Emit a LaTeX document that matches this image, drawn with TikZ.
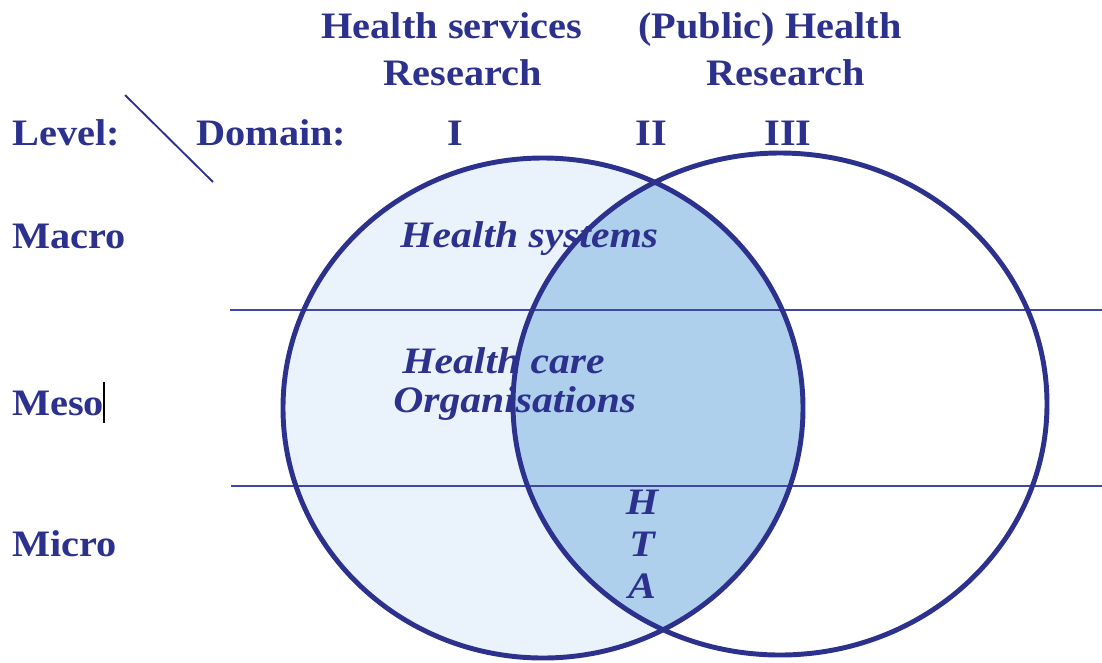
\documentclass[tikz,border=0pt]{standalone}
\usepackage{fontspec}
\setmainfont{Liberation Serif}[FakeStretch=1.08]
\newfontfamily\areafont{Liberation Serif}[FakeStretch=1.115]
\definecolor{navy}{RGB}{43,49,140}
\definecolor{rule}{RGB}{62,72,160}
\definecolor{fillI}{RGB}{234,243,251}
\definecolor{fillII}{RGB}{174,208,236}
\tikzset{
  lbl/.style={inner sep=0pt, text=navy, font=\fontsize{28}{30}\selectfont\bfseries},
  ilbl/.style={lbl, font=\areafont\fontsize{28}{30}\selectfont\bfseries\itshape},
  ring/.style={draw=navy, line width=3.7pt},
  band/.style={draw=rule, line width=1.3pt},
}
\begin{document}
\begin{tikzpicture}[x=0.75pt,y=-0.75pt]
\useasboundingbox (0,0) rectangle (1102,662);

% circle centres
\coordinate (cL) at (543,408);
\coordinate (cR) at (780,404);

% fills: domain I and the overlap II
\fill[fillI] (cL) ellipse [x radius=260, y radius=250];
\begin{scope}
  \clip (cL) ellipse [x radius=260, y radius=250];
  \fill[fillII] (cR) ellipse [x radius=267, y radius=251];
\end{scope}

% level boundaries
\coordinate (h1a) at (230,310);
\coordinate (h1b) at (1102,310);
\coordinate (h2a) at (231,486);
\coordinate (h2b) at (1102,486);
\draw[band] (h1a) -- (h1b);
\draw[band] (h2a) -- (h2b);

% corner divider
\coordinate (d1) at (125,95);
\coordinate (d2) at (213,182);
\draw[navy, line width=1.4pt] (d1) -- (d2);

% headers
\node[lbl, anchor=base] (hsr1) at (452,38) {Health services};
\node[lbl, anchor=base] (hsr2) at (463,85) {Research};
\node[lbl, anchor=base] (phr1) at (770,38) {(Public) Health};
\node[lbl, anchor=base] (phr2) at (786,85) {Research};

\node[lbl, anchor=base west] (level) at (12,145) {Level:};
\node[lbl, anchor=base west] (domain) at (196,145) {Domain:};
\node[lbl, anchor=base] (dI) at (455,145) {I};
\node[lbl, anchor=base] (dII) at (651,145) {II};
\node[lbl, anchor=base] (dIII) at (788,145) {III};

% levels
\node[lbl, anchor=base west] (macro) at (12,248) {Macro};
\node[lbl, anchor=base west] (meso) at (12,415) {Meso};
\node[lbl, anchor=base west] (micro) at (12,556) {Micro};
\coordinate (cur1) at (104,382);
\coordinate (cur2) at (104,423);
\draw[black, line width=1.2pt] (cur1) -- (cur2);

% areas
\node[ilbl, anchor=base west] (hs) at (400,247) {Health systems};
\node[ilbl, anchor=base west] (hc1) at (402,373) {Health care};
\node[ilbl, anchor=base west] (hc2) at (393,412) {Organisations};
\node[ilbl, anchor=base] (hH) at (642,514) {H};
\node[ilbl, anchor=base] (hT) at (642,556) {T};
\node[ilbl, anchor=base] (hA) at (642,598) {A};

% circle outlines
\draw[ring] (cL) ellipse [x radius=260, y radius=250];
\draw[ring] (cR) ellipse [x radius=267, y radius=251];
\end{tikzpicture}
\end{document}
